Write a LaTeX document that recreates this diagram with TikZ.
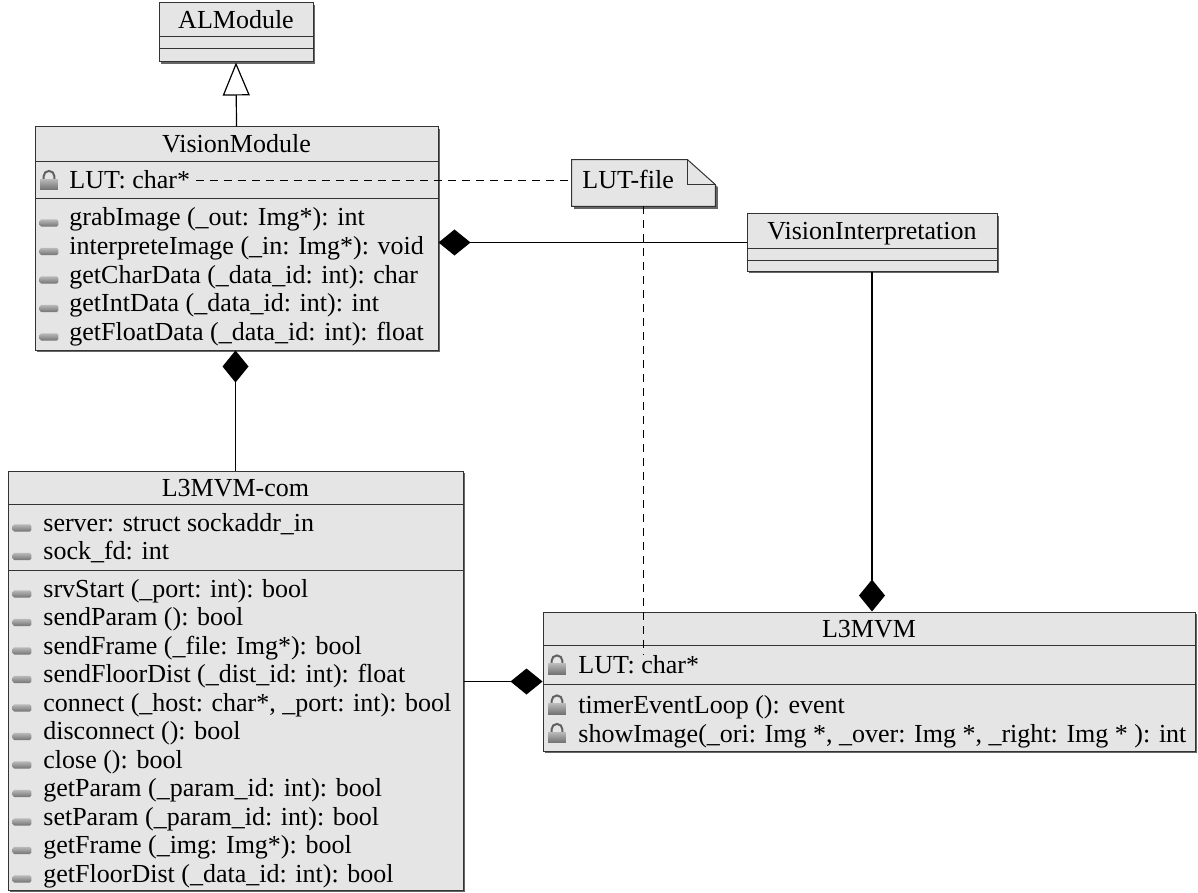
\documentclass[tikz,border=0pt]{standalone}
\usepackage{fontspec}
\setmainfont{Liberation Serif}
\usepackage{tikz}
\usetikzlibrary{
    arrows.meta,
    calc,
    fit,
    shadows
}
\tikzset
{
  classbox/.style={draw=black!80,fill=black!10,line width=0.5pt,inner sep=0pt,
    drop shadow={shadow xshift=1.2pt,shadow yshift=-1.2pt,fill=black!60,opacity=1}},
  sepline/.style={draw=black!80,line width=0.5pt},
  classname/.style={anchor=base,inner sep=0pt,font=\fontsize{13}{15}\selectfont},
  member/.style={anchor=base west,inner sep=0pt,font=\fontsize{13}{15}\selectfont},
  notebox/.style={draw=black!80,fill=black!10,line width=0.5pt,
    drop shadow={shadow xshift=1.2pt,shadow yshift=-1.2pt,fill=black!60,opacity=1}},
  compose/.style={draw=black,line width=0.6pt,-{Diamond[length=16pt,width=13pt]}},
  inherit/.style={draw=black,line width=0.6pt,-{Triangle[open,fill=white,length=16.5pt,width=13.5pt]}},
  anchorline/.style={draw=black,line width=0.6pt,dash pattern=on 4pt off 3pt},
  pics/lockicn/.style={code={
    \draw[gray!75!black,line width=1pt] (-2.7pt,-0.5pt) -- (-2.7pt,1.6pt) arc[start angle=180,end angle=0,radius=2.7pt] -- (2.7pt,-0.5pt);
    \shade[top color=gray!55,bottom color=gray!90!black] (-4.4pt,-5pt) rectangle (4.4pt,0.2pt);
  }},
  pics/baricn/.style={code={
    \shade[top color=gray!55,bottom color=gray!90!black,rounded corners=0.8pt] (-4.7pt,-1.8pt) rectangle (4.7pt,1.8pt);
  }}
}
\begin{document}
\begin{tikzpicture}[x=0.5pt,y=-0.5pt]
    \useasboundingbox (0,0) rectangle (1198,893);

    % ALModule
    \node[classbox,fit={(159,3) (313,62)}] (alm) {};
    \draw[sepline] (alm.west |- 0,37) -- (alm.east |- 0,37);
    \draw[sepline] (alm.west |- 0,49) -- (alm.east |- 0,49);
    \node[classname] (almname) at (236,28.5) {ALModule};

    % VisionModule
    \node[classbox,fit={(35,127) (438,350)}] (vm) {};
    \draw[sepline] (vm.west |- 0,162) -- (vm.east |- 0,162);
    \draw[sepline] (vm.west |- 0,199) -- (vm.east |- 0,199);
    \node[classname] (vmname) at (236.5,153) {VisionModule};
    \pic (vmlock) at (49,179.5) {lockicn};
    \node[member] (lutA) at (69,189) {LUT: char*};
    \foreach \txt [count=\i from 0] in {grabImage (\_out: Img*): int,
        interpreteImage (\_in: Img*): void,
        getCharData (\_data\_id: int): char,
        getIntData (\_data\_id: int): int,
        getFloatData (\_data\_id: int): float}
    {
        \pic (vmic\i) at (49,223+28.5*\i) {baricn};
        \node[member] (vmop\i) at (69,226+28.5*\i) {\txt};
    }

    % VisionInterpretation
    \node[classbox,fit={(747,214) (997,271)}] (vi) {};
    \draw[sepline] (vi.west |- 0,248) -- (vi.east |- 0,248);
    \draw[sepline] (vi.west |- 0,260) -- (vi.east |- 0,260);
    \node[classname] (viname) at (872,239.5) {VisionInterpretation};

    % LUT-file note
    \node[fit={(572,160) (715,206)},inner sep=0pt] (note) {};
    \path[notebox] (note.south west) -- (note.north west) -- ([xshift=-14pt]note.north east)
        -- ([yshift=-12.5pt]note.north east) -- (note.south east) -- cycle;
    \draw[sepline] ([xshift=-14pt]note.north east) |- ([yshift=-12.5pt]note.north east);
    \node[member] (notetext) at (582,189) {LUT-file};

    % L3MVM-com
    \node[classbox,fit={(8,471) (463,890)}] (com) {};
    \draw[sepline] (com.west |- 0,504) -- (com.east |- 0,504);
    \draw[sepline] (com.west |- 0,570) -- (com.east |- 0,570);
    \node[classname] (comname) at (235.5,496) {L3MVM-com};
    \foreach \txt [count=\i from 0] in {server: struct sockaddr\_in,
        sock\_fd: int}
    {
        \pic (comattic\i) at (22,528+28.5*\i) {baricn};
        \node[member] (comatt\i) at (43,531+28.5*\i) {\txt};
    }
    \foreach \txt [count=\i from 0] in {srvStart (\_port: int): bool,
        sendParam (): bool,
        sendFrame (\_file: Img*): bool,
        sendFloorDist (\_dist\_id: int): float,
        {connect (\_host: char*, \_port: int): bool},
        disconnect (): bool,
        close (): bool,
        getParam (\_param\_id: int): bool,
        setParam (\_param\_id: int): bool,
        getFrame (\_img: Img*): bool,
        getFloorDist (\_data\_id: int): bool}
    {
        \pic (comic\i) at (22,594+28.5*\i) {baricn};
        \node[member] (comop\i) at (43,597+28.5*\i) {\txt};
    }

    % L3MVM
    \node[classbox,fit={(543,612) (1195,751)}] (l3) {};
    \draw[sepline] (l3.west |- 0,645) -- (l3.east |- 0,645);
    \draw[sepline] (l3.west |- 0,684) -- (l3.east |- 0,684);
    \node[classname] (l3name) at (869,637) {L3MVM};
    \pic (l3lock) at (557,664) {lockicn};
    \node[member] (lutB) at (578,673.5) {LUT: char*};
    \foreach \txt [count=\i from 0] in {timerEventLoop (): event,
        {showImage(\_ori: Img *, \_over: Img *, \_right: Img * ): int}}
    {
        \pic (l3ic\i) at (557,704+28.5*\i) {lockicn};
        \node[member] (l3op\i) at (578,713.5+28.5*\i) {\txt};
    }

    % Relations
    \draw[inherit] (vm.north) -- (alm.south);
    \draw[compose] (com.north) -- (com.north |- vm.south);
    \draw[compose] (vi.west) -- (vi.west -| vm.east);
    \draw[compose] (vi.south) -- (vi.south |- l3.north);
    \draw[compose] (com.east |- l3.west) -- (l3.west);

    % Note anchors
    \draw[anchorline] ([xshift=2.5pt]lutA.east) -- (lutA.east -| note.west);
    \draw[anchorline] (note.south) -- (note.south |- lutB.north);

\end{tikzpicture}
\end{document}
